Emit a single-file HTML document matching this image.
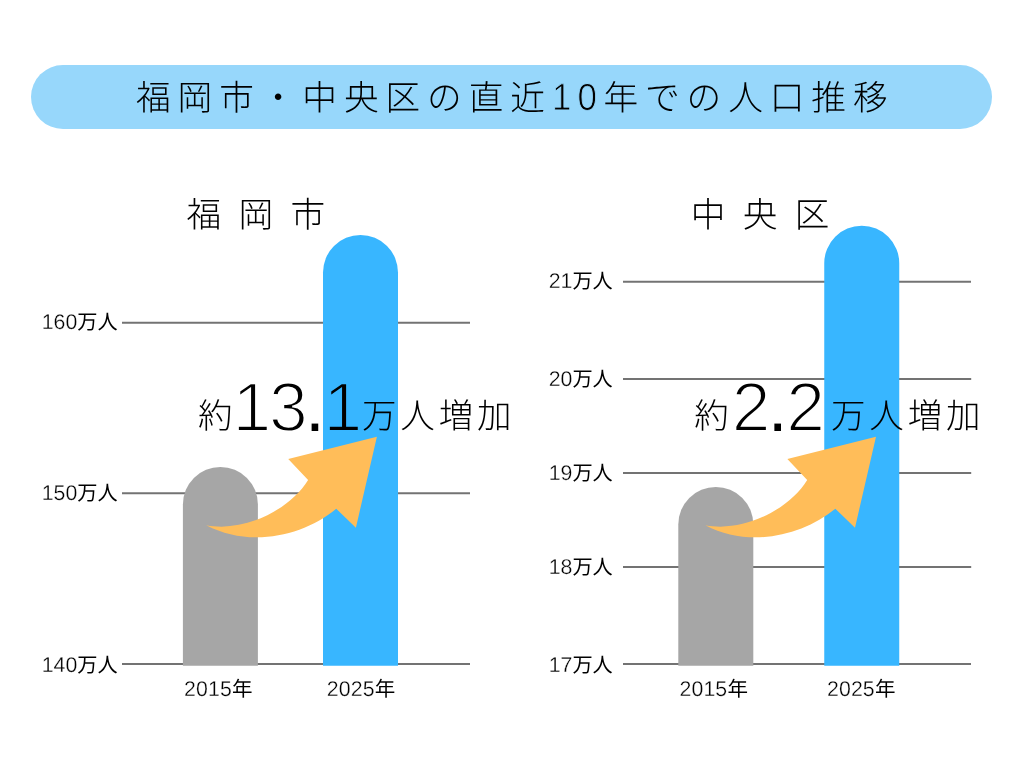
<!DOCTYPE html>
<html lang="ja">
<head>
<meta charset="utf-8">
<title>福岡市・中央区の直近10年での人口推移</title>
<style>
html,body{margin:0;padding:0;background:#fff;}
body{width:1024px;height:768px;position:relative;overflow:hidden;
 font-family:"Liberation Sans","Noto Sans CJK JP",sans-serif;color:#000;text-rendering:geometricPrecision;}
#shapes{position:absolute;left:0;top:0;}
.t{position:absolute;white-space:nowrap;line-height:1;margin:0;}
.banner{left:31px;top:65px;width:961px;height:64px;border-radius:32px;background:#97d7fb;position:absolute;}
.title{font-weight:300;font-size:34.7px;letter-spacing:6.9px;left:136px;top:81.5px;}
.title .d{display:inline-block;font-size:38px;letter-spacing:6.5px;margin-right:-3.8px;line-height:0;-webkit-text-stroke:0.9px #97d7fb;transform:scaleX(.92);transform-origin:0 50%;}
.sec{font-weight:300;font-size:34.7px;letter-spacing:17.35px;top:199px;}
.ax{font-weight:400;font-size:20.2px;}
.g{font-size:21.3px;line-height:0;-webkit-text-stroke:0.3px #fff;}
.yr{font-weight:400;font-size:20.5px;letter-spacing:0.15px;}
.inc{font-weight:300;font-size:34.5px;letter-spacing:3.8px;top:400px;}
.num{font-size:69.6px;letter-spacing:-2.4px;line-height:0;vertical-align:-2.5px;-webkit-text-stroke:2.1px #fff;}
.num .b{-webkit-text-stroke-color:#38b6ff;}
.num .p{letter-spacing:-1.2px;-webkit-text-stroke:0;}
</style>
</head>
<body>
<div class="banner"></div>
<div class="t title" id="title">福岡市・中央区の直近<span class="d">10</span>年での人口推移</div>

<svg id="shapes" width="1024" height="768" viewBox="0 0 1024 768">
 <g stroke="#737373" stroke-width="2" fill="none">
  <line x1="122" y1="322.7" x2="470" y2="322.7"/>
  <line x1="122" y1="493.2" x2="470" y2="493.2"/>
  <line x1="122" y1="664" x2="470" y2="664"/>
  <line x1="623" y1="281.7" x2="971" y2="281.7"/>
  <line x1="623" y1="378.95" x2="971.2" y2="378.95"/>
  <line x1="623" y1="472.95" x2="971.2" y2="472.95"/>
  <line x1="623" y1="566.95" x2="971.2" y2="566.95"/>
  <line x1="623" y1="664" x2="971" y2="664"/>
 </g>
 <path fill="#a6a6a6" d="M182.9 665.7V504.4a37.5 37.5 0 0 1 75 0V665.7Z"/>
 <path fill="#38b6ff" d="M323 665.7V272.5a37.5 37.5 0 0 1 75 0V665.7Z"/>
 <path fill="#a6a6a6" d="M678.3 665.7V524.4a37.5 37.5 0 0 1 75 0V665.7Z"/>
 <path fill="#38b6ff" d="M824.25 665.7V263.25a37.5 37.5 0 0 1 75 0V665.7Z"/>
 <path fill="#ffbd59" d="M206.3 525.2C244.2 532.7 289.9 509.6 308.1 479.9L288.25 459.06L376.9 436.75L355.9 527.7L336.25 508.75C302.4 536.7 249 547.8 206.3 525.2Z"/>
 <path fill="#ffbd59" transform="translate(499.1 0)" d="M206.3 525.2C244.2 532.7 289.9 509.6 308.1 479.9L288.25 459.06L376.9 436.75L355.9 527.7L336.25 508.75C302.4 536.7 249 547.8 206.3 525.2Z"/>
</svg>

<div class="t sec" id="sec1" style="left:186.5px;">福岡市</div>
<div class="t sec" id="sec2" style="left:690.8px;">中央区</div>

<div class="t ax" id="a160" style="right:906.3px;top:312.6px;"><span class="g">160</span>万人</div>
<div class="t ax" id="a150" style="right:906.3px;top:484.3px;"><span class="g">150</span>万人</div>
<div class="t ax" id="a140" style="right:906.3px;top:656.3px;"><span class="g">140</span>万人</div>

<div class="t ax" id="a21" style="right:411.2px;top:271.6px;"><span class="g">21</span>万人</div>
<div class="t ax" id="a20" style="right:411.2px;top:369.6px;"><span class="g">20</span>万人</div>
<div class="t ax" id="a19" style="right:411.2px;top:463.6px;"><span class="g">19</span>万人</div>
<div class="t ax" id="a18" style="right:411.2px;top:557.6px;"><span class="g">18</span>万人</div>
<div class="t ax" id="a17" style="right:411.2px;top:656.3px;"><span class="g">17</span>万人</div>

<div class="t yr" id="y1" style="left:184.1px;top:680px;"><span class="g">2015</span>年</div>
<div class="t yr" id="y2" style="left:326.7px;top:680px;"><span class="g">2025</span>年</div>
<div class="t yr" id="y3" style="left:679.4px;top:680px;"><span class="g">2015</span>年</div>
<div class="t yr" id="y4" style="left:826.9px;top:680px;"><span class="g">2025</span>年</div>

<div class="t inc" id="inc1" style="left:198.1px;">約<span class="num" style="margin-left:-3.8px;margin-right:2.35px;">13<span class="p">.</span><span class="b">1</span></span>万人増加</div>
<div class="t inc" id="inc2" style="left:694.3px;">約<span class="num" style="margin-left:-0.9px;margin-right:8.55px;">2<span class="p">.</span>2</span>万人増加</div>
</body>
</html>
